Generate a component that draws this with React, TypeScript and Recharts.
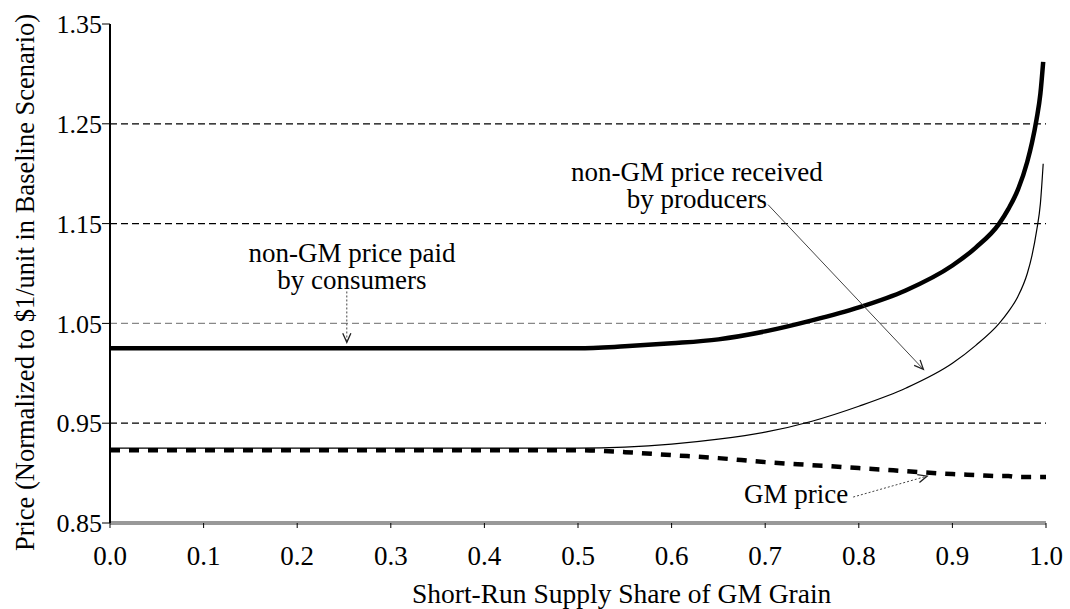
import { LineChart, Line, XAxis, YAxis, ReferenceLine, ReferenceDot } from 'recharts'

const shareX = [0, 0.1, 0.2, 0.3, 0.4, 0.5, 0.55, 0.6, 0.65, 0.7, 0.75, 0.8, 0.85, 0.9, 0.925, 0.95, 0.96, 0.97, 0.98, 0.985, 0.99, 0.994, 0.997, 1.0]
const consumerPrice = [1.025, 1.025, 1.025, 1.025, 1.025, 1.025, 1.027, 1.030, 1.034, 1.042, 1.053, 1.066, 1.083, 1.108, 1.126, 1.150, 1.165, 1.184, 1.212, 1.231, 1.255, 1.280, 1.312, null]
const producerPrice = [0.925, 0.925, 0.925, 0.925, 0.925, 0.925, 0.926, 0.929, 0.934, 0.941, 0.952, 0.967, 0.985, 1.010, 1.028, 1.050, 1.062, 1.077, 1.100, 1.118, 1.143, 1.170, 1.210, null]
const gmPrice = [0.923, 0.923, 0.923, 0.923, 0.923, 0.923, 0.921, 0.918, 0.915, 0.911, 0.908, 0.905, 0.902, 0.899, 0.898, 0.897, 0.897, 0.896, 0.896, 0.896, 0.896, 0.896, 0.896, 0.896]

const xTicks = [0, 0.1, 0.2, 0.3, 0.4, 0.5, 0.6, 0.7, 0.8, 0.9, 1.0]
const yTicks = [0.85, 0.95, 1.05, 1.15, 1.25, 1.35]
const gridValues = [0.95, 1.05, 1.15, 1.25]

// annotation text (data coords of each block's first line)
const notes = [
  { lines: ['non-GM price paid', 'by consumers'], x: 0.2585, y: 1.121 },
  { lines: ['non-GM price received', 'by producers'], x: 0.627, y: 1.202 },
  { lines: ['GM price'], x: 0.733, y: 0.879 },
]

// arrows: from -> to, in data coords
const arrows = [
  { from: { x: 0.253, y: 1.082 }, to: { x: 0.253, y: 1.031 }, dash: '2 2' },
  { from: { x: 0.703, y: 1.169 }, to: { x: 0.869, y: 1.004 }, dash: undefined },
  { from: { x: 0.794, y: 0.876 }, to: { x: 0.873, y: 0.897 }, dash: '2 2' },
]

const data = shareX.map((x, i) => ({
  x,
  consumer: consumerPrice[i],
  producer: producerPrice[i],
  gm: gmPrice[i],
}))

const FONT = 'Liberation Serif'

const arrowShape = (dash?: string) => (p: any) => {
  const { x1, y1, x2, y2 } = p
  const a = Math.atan2(y2 - y1, x2 - x1)
  const len = 10
  const spread = 0.42
  const hx1 = x2 - len * Math.cos(a - spread)
  const hy1 = y2 - len * Math.sin(a - spread)
  const hx2 = x2 - len * Math.cos(a + spread)
  const hy2 = y2 - len * Math.sin(a + spread)
  return (
    <g>
      <line x1={x1} y1={y1} x2={x2} y2={y2} stroke="#444" strokeWidth={1} strokeDasharray={dash} />
      <path d={`M${hx1},${hy1} L${x2},${y2} L${hx2},${hy2}`} fill="none" stroke="#222" strokeWidth={1.3} />
    </g>
  )
}

const noteShape = (lines: string[]) => (p: any) => (
  <g>
    {lines.map((t, i) => (
      <text key={i} x={p.cx} y={p.cy + i * 27} textAnchor="middle" dominantBaseline="central"
        fontFamily={FONT} fontSize={27} fill="#000">{t}</text>
    ))}
  </g>
)

const YTitle = (props: any) => {
  const vb = props.viewBox
  const x = vb.x + 34
  const y = vb.y + vb.height / 2 + 9
  return (
    <text x={x} y={y} transform={`rotate(-90, ${x}, ${y})`} textAnchor="middle" fontFamily={FONT} fontSize={26.5} fill="#000">
      Price (Normalized to $1/unit in Baseline Scenario)
    </text>
  )
}

const XTitle = (props: any) => {
  const vb = props.viewBox
  return (
    <text x={vb.x + 302} y={vb.y + 80} textAnchor="start" fontFamily={FONT} fontSize={27.5} fill="#000">
      Short-Run Supply Share of GM Grain
    </text>
  )
}

export default function App() {
  return (
    <div style={{ position: 'absolute', left: 0, top: 0, background: '#fff' }}>
      <LineChart width={1070} height={609} data={data} margin={{ top: 24, right: 24, left: 0, bottom: 0 }}>
        <XAxis
          dataKey="x"
          type="number"
          domain={[0, 1]}
          ticks={xTicks}
          tickFormatter={(v: number) => v.toFixed(1)}
          height={86}
          tickSize={5}
          tickMargin={18}
          axisLine={{ stroke: '#999', strokeWidth: 4 }}
          tickLine={{ stroke: '#000' }}
          tick={{ fill: '#000', fontSize: 27, fontFamily: FONT }}
          label={XTitle}
        />
        <XAxis xAxisId="top" orientation="top" type="number" domain={[0, 1]} height={0} tick={false} tickLine={false}
          axisLine={{ stroke: '#999', strokeWidth: 3 }} />
        <YAxis
          type="number"
          domain={[0.85, 1.35]}
          ticks={yTicks}
          tickFormatter={(v: number) => v.toFixed(2)}
          width={110}
          tickSize={8}
          tickMargin={0}
          axisLine={{ stroke: '#000', strokeWidth: 2 }}
          tickLine={{ stroke: '#000' }}
          tick={{ fill: '#000', fontSize: 26, fontFamily: FONT }}
          label={YTitle}
        />
        <YAxis yAxisId="right" orientation="right" type="number" domain={[0.85, 1.35]} width={0} tick={false} tickLine={false}
          axisLine={{ stroke: '#000', strokeWidth: 2 }} />
        {gridValues.map(v => (
          <ReferenceLine key={v} y={v} stroke={v === 1.05 ? '#888' : '#000'} strokeWidth={1.2} strokeDasharray="7 4" />
        ))}
        <Line type="monotone" dataKey="producer" stroke="#000" strokeWidth={1.2} dot={false} isAnimationActive={false} />
        <Line type="monotone" dataKey="gm" stroke="#000" strokeWidth={4.5} strokeDasharray="10 9" dot={false} isAnimationActive={false} />
        <Line type="monotone" dataKey="consumer" stroke="#000" strokeWidth={4.5} dot={false} isAnimationActive={false} />
        {arrows.map((a, i) => (
          <ReferenceLine key={'a' + i} segment={[a.from, a.to]} shape={arrowShape(a.dash)} />
        ))}
        {notes.map((n, i) => (
          <ReferenceDot key={'n' + i} x={n.x} y={n.y} r={1} shape={noteShape(n.lines)} />
        ))}
      </LineChart>
    </div>
  )
}
